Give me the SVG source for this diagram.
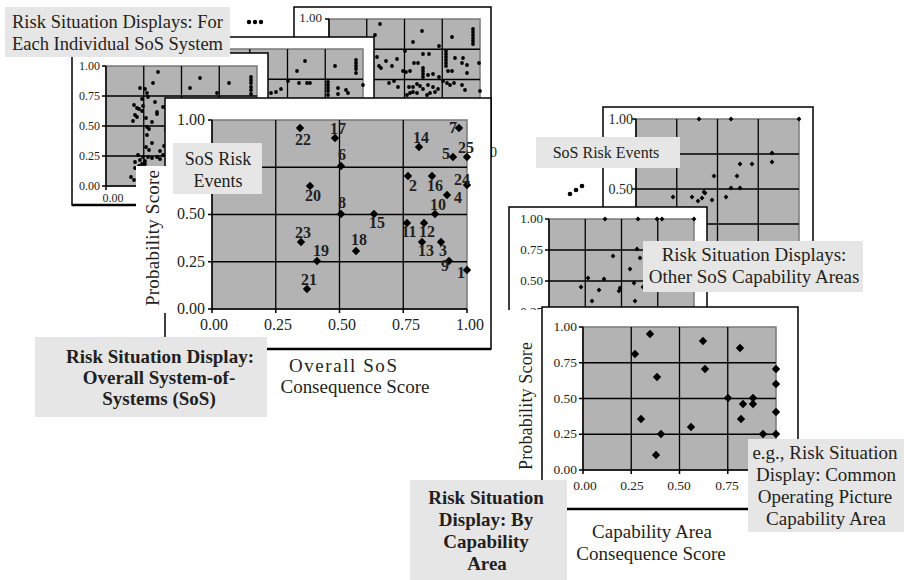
<svg xmlns="http://www.w3.org/2000/svg" xmlns:xlink="http://www.w3.org/1999/xlink" width="904" height="580" viewBox="0 0 904 580">
<style>
.fr{fill:#fff;stroke:#000;stroke-width:1.5}
.pl{fill:#b3b3b3;stroke:#7a7a7a;stroke-width:1.5}
.gr{fill:none;stroke:#000;stroke-width:1.3}
.ax{fill:none;stroke:#000;stroke-width:1.5}
.lb{fill:#e6e6e6}
.t{font-family:"Liberation Serif","Times New Roman",serif;fill:#231f20}
.b{font-weight:bold}
.mid{text-anchor:middle}
.end{text-anchor:end}
.dot circle{fill:#000}
.dl{font-family:"Liberation Serif",serif;font-weight:bold;font-size:16px;fill:#231f20;text-anchor:middle}
</style>
<defs>
<path id="dm" d="M0,-4.2L4.2,0L0,4.2L-4.2,0Z" fill="#000"/>
<path id="ds" d="M0,-2.4L2.4,0L0,2.4L-2.4,0Z" fill="#000"/>
</defs>

<!-- ellipsis dots -->
<g id="ellipsis-top" class="dot"><circle cx="249" cy="22" r="2.2"/><circle cx="255" cy="22" r="2.2"/><circle cx="261" cy="22" r="2.2"/></g>

<!-- back chart 1 -->
<g id="chart-sys-1">
<rect class="fr" x="294" y="7" width="197" height="150"/>
<rect class="pl" x="329" y="19" width="151" height="121"/>
<path class="gr" d="M366.75,19V140M404.5,19V140M442.25,19V140M329,49.25H480M329,79.5H480M329,109.75H480"/>
<path class="ax" d="M329,19V140M325,19H329"/>
<text class="t end" x="322" y="22" font-size="13">1.00</text>
<g class="dot">
<circle cx="380" cy="24" r="1.9"/><circle cx="422" cy="31" r="1.9"/><circle cx="413" cy="42" r="1.9"/><circle cx="375" cy="35" r="1.9"/><circle cx="452" cy="37" r="1.9"/>
<circle cx="473" cy="29" r="1.9"/><circle cx="473" cy="32" r="1.9"/><circle cx="473" cy="35" r="1.9"/><circle cx="473" cy="38" r="1.9"/><circle cx="473" cy="41" r="1.9"/><circle cx="473" cy="44" r="1.9"/>
<circle cx="439" cy="46" r="1.9"/><circle cx="405" cy="51" r="1.9"/><circle cx="446" cy="51" r="1.9"/><circle cx="446" cy="54" r="1.9"/><circle cx="446" cy="57" r="1.9"/><circle cx="446" cy="60" r="1.9"/><circle cx="446" cy="63" r="1.9"/><circle cx="446" cy="66" r="1.9"/>
<circle cx="455" cy="58" r="1.9"/><circle cx="463" cy="58" r="1.9"/><circle cx="462" cy="63" r="1.9"/><circle cx="467" cy="65" r="1.9"/><circle cx="479" cy="63" r="1.9"/><circle cx="448" cy="71" r="1.9"/><circle cx="452" cy="71" r="1.9"/><circle cx="467" cy="73" r="1.9"/>
<circle cx="423" cy="54" r="1.9"/><circle cx="429" cy="54" r="1.9"/><circle cx="418" cy="63" r="1.9"/><circle cx="414" cy="63" r="1.9"/><circle cx="423" cy="68" r="1.9"/><circle cx="423" cy="71" r="1.9"/><circle cx="423" cy="74" r="1.9"/><circle cx="423" cy="77" r="1.9"/>
<circle cx="428" cy="75" r="1.9"/><circle cx="433" cy="74" r="1.9"/><circle cx="439" cy="77" r="1.9"/><circle cx="403" cy="71" r="1.9"/><circle cx="406" cy="72" r="1.9"/><circle cx="410" cy="71" r="1.9"/>
<circle cx="377" cy="57" r="1.9"/><circle cx="386" cy="61" r="1.9"/><circle cx="379" cy="66" r="1.9"/><circle cx="381" cy="68" r="1.9"/><circle cx="392" cy="66" r="1.9"/><circle cx="397" cy="59" r="1.9"/>
<circle cx="389" cy="83" r="1.9"/><circle cx="394" cy="81" r="1.9"/><circle cx="398" cy="87" r="1.9"/><circle cx="409" cy="87" r="1.9"/><circle cx="413" cy="87" r="1.9"/><circle cx="417" cy="84" r="1.9"/><circle cx="420" cy="86" r="1.9"/><circle cx="423" cy="89" r="1.9"/>
<circle cx="428" cy="85" r="1.9"/><circle cx="433" cy="87" r="1.9"/><circle cx="435" cy="92" r="1.9"/><circle cx="438" cy="89" r="1.9"/><circle cx="443" cy="81" r="1.9"/><circle cx="447" cy="83" r="1.9"/><circle cx="450" cy="85" r="1.9"/><circle cx="454" cy="83" r="1.9"/>
<circle cx="462" cy="85" r="1.9"/><circle cx="465" cy="90" r="1.9"/><circle cx="480" cy="91" r="1.9"/><circle cx="413" cy="92" r="1.9"/><circle cx="417" cy="93" r="1.9"/><circle cx="407" cy="95" r="1.9"/><circle cx="410" cy="93" r="1.9"/><circle cx="427" cy="95" r="1.9"/><circle cx="430" cy="93" r="1.9"/>
</g>
</g>

<!-- back chart 2 -->
<g id="chart-sys-2">
<rect class="fr" x="140" y="37" width="234" height="170"/>
<rect class="pl" x="212" y="49" width="151" height="121"/>
<path class="gr" d="M249.75,49V170M287.5,49V170M325.25,49V170M212,79.25H363M212,109.5H363M212,139.75H363"/>
<g class="dot">
<circle cx="305" cy="61" r="1.9"/><circle cx="297" cy="71" r="1.9"/><circle cx="335" cy="66" r="1.9"/>
<circle cx="356" cy="60" r="1.9"/><circle cx="356" cy="63" r="1.9"/><circle cx="356" cy="66" r="1.9"/><circle cx="356" cy="69" r="1.9"/><circle cx="356" cy="73" r="1.9"/>
<circle cx="288" cy="81" r="1.9"/><circle cx="299" cy="83" r="1.9"/><circle cx="307" cy="83" r="1.9"/><circle cx="310" cy="83" r="1.9"/>
<circle cx="328" cy="82" r="1.9"/><circle cx="328" cy="85" r="1.9"/><circle cx="328" cy="88" r="1.9"/><circle cx="328" cy="91" r="1.9"/><circle cx="328" cy="95" r="1.9"/>
<circle cx="338" cy="88" r="1.9"/><circle cx="346" cy="90" r="1.9"/><circle cx="348" cy="93" r="1.9"/><circle cx="338" cy="94" r="1.9"/><circle cx="363" cy="85" r="1.9"/>
<circle cx="281" cy="89" r="1.9"/><circle cx="276" cy="92" r="1.9"/><circle cx="271" cy="93" r="1.9"/>
</g>
</g>

<!-- back chart 3 (left) -->
<g id="chart-sys-3">
<rect class="fr" x="72" y="53" width="196" height="152"/>
<line x1="72" y1="205" x2="268" y2="205" stroke="#000" stroke-width="2.5"/>
<rect class="pl" x="106" y="66" width="151" height="120"/>
<path class="gr" d="M143.75,66V186M181.5,66V186M219.25,66V186M106,96H257M106,126H257M106,156H257"/>
<path class="ax" d="M106,66V186H257M102,66H106M102,96H106M102,126H106M102,156H106M102,186H106M106,186V190"/>
<g class="t end" font-size="12">
<text x="100" y="70">1.00</text><text x="100" y="100">0.75</text><text x="100" y="130">0.50</text><text x="100" y="160">0.25</text><text x="100" y="190">0.00</text>
</g>
<text class="t mid" x="113" y="202" font-size="12">0.00</text>
<g class="dot">
<circle cx="158" cy="72" r="1.9"/><circle cx="153" cy="83" r="1.9"/><circle cx="200" cy="78" r="1.9"/><circle cx="190" cy="88" r="1.9"/><circle cx="229" cy="83" r="1.9"/>
<circle cx="251" cy="77" r="1.9"/><circle cx="251" cy="80" r="1.9"/><circle cx="251" cy="83" r="1.9"/><circle cx="251" cy="87" r="1.9"/><circle cx="251" cy="90" r="1.9"/><circle cx="251" cy="94" r="1.9"/>
<circle cx="217" cy="93" r="1.9"/><circle cx="140" cy="88" r="1.9"/><circle cx="145" cy="89" r="1.9"/><circle cx="147" cy="93" r="1.9"/><circle cx="148" cy="97" r="1.9"/><circle cx="142" cy="99" r="1.9"/>
<circle cx="143" cy="106" r="1.9"/><circle cx="155" cy="102" r="1.9"/><circle cx="134" cy="105" r="1.9"/><circle cx="137" cy="108" r="1.9"/><circle cx="139" cy="109" r="1.9"/><circle cx="142" cy="111" r="1.9"/>
<circle cx="157" cy="112" r="1.9"/><circle cx="157" cy="114" r="1.9"/><circle cx="135" cy="115" r="1.9"/><circle cx="137" cy="117" r="1.9"/><circle cx="146" cy="118" r="1.9"/><circle cx="152" cy="122" r="1.9"/>
<circle cx="133" cy="121" r="1.9"/><circle cx="147" cy="127" r="1.9"/><circle cx="149" cy="129" r="1.9"/><circle cx="147" cy="135" r="1.9"/><circle cx="152" cy="143" r="1.9"/><circle cx="146" cy="147" r="1.9"/>
<circle cx="149" cy="150" r="1.9"/><circle cx="160" cy="151" r="1.9"/><circle cx="164" cy="146" r="1.9"/><circle cx="138" cy="155" r="1.9"/><circle cx="143" cy="157" r="1.9"/><circle cx="140" cy="160" r="1.9"/>
<circle cx="145" cy="161" r="1.9"/><circle cx="148" cy="157" r="1.9"/><circle cx="152" cy="158" r="1.9"/><circle cx="157" cy="157" r="1.9"/><circle cx="160" cy="159" r="1.9"/><circle cx="135" cy="162" r="1.9"/>
<circle cx="142" cy="164" r="1.9"/><circle cx="145" cy="164" r="1.9"/><circle cx="139" cy="166" r="1.9"/><circle cx="135" cy="168" r="1.9"/><circle cx="131" cy="177" r="1.9"/><circle cx="134" cy="180" r="1.9"/>
<circle cx="163" cy="155" r="1.9"/><circle cx="163" cy="107" r="1.9"/><circle cx="166" cy="130" r="1.9"/>
</g>
</g>

<!-- top-left label -->
<g id="label-individual">
<rect class="lb" x="5" y="7" width="225" height="50"/>
<text class="t" x="12" y="28" font-size="18.5" textLength="211">Risk Situation Displays: For</text>
<text class="t" x="12" y="50" font-size="18.5" textLength="211">Each Individual SoS System</text>
</g>

<text class="t" x="490" y="157" font-size="14">0</text>

<!-- main chart -->
<g id="chart-overall">
<rect class="fr" x="165" y="98" width="326" height="251"/>
<line x1="165" y1="349" x2="491" y2="349" stroke="#000" stroke-width="2.5"/>
<rect x="136" y="166" width="31" height="147" fill="#fff"/>
<text class="t mid" transform="translate(159,238) rotate(-90)" font-size="19" textLength="136">Probability Score</text>
<rect class="pl" x="212" y="120" width="255" height="189"/>
<path class="gr" d="M275.75,120V309M339.5,120V309M403.25,120V309M212,167.25H467M212,214.5H467M212,261.75H467"/>
<path class="ax" d="M212,120V309H467M208,120H212M208,167.25H212M208,214.5H212M208,261.75H212M208,309H212M212,309V313M275.75,309V313M339.5,309V313M403.25,309V313M467,309V313"/>
<g class="t end" font-size="16">
<text x="205" y="125">1.00</text><text x="205" y="219">0.50</text><text x="205" y="267">0.25</text><text x="205" y="314">0.00</text>
</g>
<g class="t mid" font-size="16">
<text x="214" y="330">0.00</text><text x="278" y="330">0.25</text><text x="342" y="330">0.50</text><text x="406" y="330">0.75</text><text x="470" y="330">1.00</text>
</g>
<g id="main-points">
<use href="#dm" x="300" y="128"/><use href="#dm" x="335" y="138"/><use href="#dm" x="310" y="186"/><use href="#dm" x="301" y="242"/><use href="#dm" x="317" y="261"/>
<use href="#dm" x="307" y="289"/><use href="#dm" x="341" y="166"/><use href="#dm" x="341" y="214"/><use href="#dm" x="374" y="214"/><use href="#dm" x="356" y="251"/>
<use href="#dm" x="419" y="147"/><use href="#dm" x="459" y="128"/><use href="#dm" x="453" y="157"/><use href="#dm" x="467" y="157"/><use href="#dm" x="408" y="176"/>
<use href="#dm" x="432" y="176"/><use href="#dm" x="467" y="185"/><use href="#dm" x="447" y="195"/><use href="#dm" x="435" y="214"/><use href="#dm" x="407" y="223"/>
<use href="#dm" x="424" y="223"/><use href="#dm" x="422" y="242"/><use href="#dm" x="441" y="242"/><use href="#dm" x="449" y="261"/><use href="#dm" x="467" y="270"/>
</g>
<g id="main-point-labels">
<text class="dl" x="303" y="145">22</text><text class="dl" x="338" y="134">17</text><text class="dl" x="313" y="201">20</text><text class="dl" x="303" y="238">23</text>
<text class="dl" x="321" y="256">19</text><text class="dl" x="309" y="285">21</text><text class="dl" x="342" y="160">6</text><text class="dl" x="342" y="208">8</text>
<text class="dl" x="377" y="228">15</text><text class="dl" x="359" y="245">18</text><text class="dl" x="421" y="143">14</text><text class="dl" x="453" y="133">7</text>
<text class="dl" x="446" y="159">5</text><text class="dl" x="466" y="153">25</text><text class="dl" x="413" y="191">2</text><text class="dl" x="435" y="191">16</text>
<text class="dl" x="462" y="185">24</text><text class="dl" x="458" y="203">4</text><text class="dl" x="438" y="210">10</text><text class="dl" x="409" y="237">11</text>
<text class="dl" x="427" y="237">12</text><text class="dl" x="426" y="256">13</text><text class="dl" x="443" y="256">3</text><text class="dl" x="445" y="271">9</text><text class="dl" x="461" y="278">1</text>
</g>
<text class="t mid" x="343" y="372" font-size="19" textLength="108">Overall SoS</text>
<text class="t mid" x="355" y="393" font-size="19" textLength="149">Consequence Score</text>
</g>

<g id="label-sos-events-main">
<rect class="lb" x="173" y="143" width="89" height="51"/>
<text class="t mid" x="218" y="165" font-size="18">SoS Risk</text>
<text class="t mid" x="218" y="187" font-size="18">Events</text>
</g>

<g id="label-overall">
<rect class="lb" x="35" y="337" width="232" height="80"/>
<text class="t b mid" x="160" y="363" font-size="19">Risk Situation Display:</text>
<text class="t b mid" x="159" y="384" font-size="19">Overall System-of-</text>
<text class="t b mid" x="159" y="405" font-size="19">Systems (SoS)</text>
</g>

<!-- right side: back chart -->
<g id="chart-cap-back">
<rect class="fr" x="603" y="107" width="210" height="183"/>
<rect class="pl" x="636" y="119" width="163" height="140"/>
<path class="gr" d="M676.75,119V259M717.5,119V259M758.25,119V259M636,154H799M636,189H799M636,224H799"/>
<path class="ax" d="M636,119V259M632,119H636M632,154H636M632,189H636M632,224H636"/>
<text class="t end" x="633" y="124" font-size="14">1.00</text>
<text class="t end" x="633" y="194" font-size="14">0.50</text>
<g>
<use href="#ds" x="699" y="119"/><use href="#ds" x="731" y="119"/><use href="#ds" x="799" y="119"/><use href="#ds" x="772" y="153"/><use href="#ds" x="772" y="162"/>
<use href="#ds" x="740" y="164"/><use href="#ds" x="752" y="164"/><use href="#ds" x="714" y="176"/><use href="#ds" x="737" y="176"/><use href="#ds" x="731" y="188"/>
<use href="#ds" x="740" y="188"/><use href="#ds" x="704" y="192"/><use href="#ds" x="692" y="197"/><use href="#ds" x="698" y="201"/><use href="#ds" x="702" y="198"/>
<use href="#ds" x="712" y="200"/><use href="#ds" x="726" y="197"/><use href="#ds" x="673" y="197"/><use href="#ds" x="705" y="193"/>
</g>
</g>

<g id="label-sos-events-right">
<rect class="lb" x="536" y="137" width="144" height="31"/>
<text class="t mid" x="606" y="158" font-size="16">SoS Risk Events</text>
</g>

<g id="ellipsis-right" class="dot"><circle cx="570" cy="194" r="2.3"/><circle cx="576" cy="190" r="2.3"/><circle cx="582" cy="186" r="2.3"/></g>

<!-- middle chart -->
<g id="chart-cap-mid">
<rect class="fr" x="509" y="207" width="198" height="140"/>
<rect class="pl" x="549" y="219" width="145" height="124"/>
<path class="gr" d="M585.25,219V343M621.5,219V343M657.75,219V343M549,250H694M549,281H694M549,312H694"/>
<path class="ax" d="M549,219V343M545,219H549M545,250H549M545,281H549M545,312H549"/>
<g class="t end" font-size="13">
<text x="543" y="223">1.00</text><text x="543" y="254">0.75</text><text x="543" y="285">0.50</text><text x="543" y="316">0.25</text>
</g>
<g>
<use href="#ds" x="605" y="219"/><use href="#ds" x="638" y="219"/><use href="#ds" x="657" y="219"/><use href="#ds" x="662" y="219"/><use href="#ds" x="694" y="219"/>
<use href="#ds" x="637" y="249"/><use href="#ds" x="613" y="256"/><use href="#ds" x="640" y="258"/><use href="#ds" x="630" y="269"/><use href="#ds" x="588" y="278"/>
<use href="#ds" x="604" y="279"/><use href="#ds" x="581" y="287"/><use href="#ds" x="599" y="290"/><use href="#ds" x="619" y="291"/><use href="#ds" x="620" y="288"/>
<use href="#ds" x="634" y="283"/><use href="#ds" x="643" y="287"/><use href="#ds" x="592" y="301"/><use href="#ds" x="635" y="301"/>
</g>
</g>

<g id="label-other-areas">
<rect class="lb" x="643" y="241" width="220" height="51"/>
<text class="t mid" x="754" y="261" font-size="19">Risk Situation Displays:</text>
<text class="t mid" x="754" y="283" font-size="19">Other SoS Capability Areas</text>
</g>

<!-- front chart -->
<g id="chart-cap-front">
<rect x="505" y="310" width="40" height="172" fill="#fff"/>
<rect class="fr" x="542" y="307" width="256" height="202"/>
<line x1="542" y1="509" x2="798" y2="509" stroke="#000" stroke-width="2.5"/>
<text class="t mid" transform="translate(532,406) rotate(-90)" font-size="18" textLength="128">Probability Score</text>
<rect class="pl" x="583" y="327" width="193" height="143"/>
<path class="gr" d="M631.25,327V470M679.5,327V470M727.75,327V470M583,362.75H776M583,398.5H776M583,434.25H776"/>
<path class="ax" d="M583,327V470H776M579,327H583M579,362.75H583M579,398.5H583M579,434.25H583M579,470H583M583,470V474M631.25,470V474M679.5,470V474M727.75,470V474M776,470V474"/>
<g class="t end" font-size="13.5">
<text x="577" y="331">1.00</text><text x="577" y="367">0.75</text><text x="577" y="403">0.50</text><text x="577" y="438">0.25</text><text x="577" y="474">0.00</text>
</g>
<g class="t mid" font-size="13.5">
<text x="585" y="490">0.00</text><text x="632" y="490">0.25</text><text x="679" y="490">0.50</text><text x="727" y="490">0.75</text>
</g>
<g>
<use href="#dm" x="650" y="334"/><use href="#dm" x="635" y="354"/><use href="#dm" x="657" y="377"/><use href="#dm" x="641" y="419"/><use href="#dm" x="661" y="434"/>
<use href="#dm" x="656" y="455"/><use href="#dm" x="691" y="427"/><use href="#dm" x="703" y="341"/><use href="#dm" x="740" y="348"/><use href="#dm" x="705" y="369"/>
<use href="#dm" x="776" y="369"/><use href="#dm" x="776" y="384"/><use href="#dm" x="728" y="398"/><use href="#dm" x="753" y="398"/><use href="#dm" x="743" y="404"/>
<use href="#dm" x="753" y="404"/><use href="#dm" x="776" y="412"/><use href="#dm" x="741" y="419"/><use href="#dm" x="763" y="434"/><use href="#dm" x="776" y="434"/>
</g>
<text class="t mid" x="652" y="538" font-size="19">Capability Area</text>
<text class="t mid" x="651" y="560" font-size="19">Consequence Score</text>
</g>

<g id="label-by-area">
<rect class="lb" x="410" y="480" width="157" height="100"/>
<text class="t b mid" x="486" y="504" font-size="19">Risk Situation</text>
<text class="t b mid" x="486" y="526" font-size="19">Display: By</text>
<text class="t b mid" x="486" y="548" font-size="19">Capability</text>
<text class="t b mid" x="487" y="570" font-size="19">Area</text>
</g>

<g id="label-cop">
<rect class="lb" x="748" y="439" width="156" height="93"/>
<text class="t mid" x="825" y="459" font-size="19">e.g., Risk Situation</text>
<text class="t mid" x="826" y="481" font-size="19">Display: Common</text>
<text class="t mid" x="825" y="503" font-size="19">Operating Picture</text>
<text class="t mid" x="826" y="525" font-size="19">Capability Area</text>
</g>
</svg>
